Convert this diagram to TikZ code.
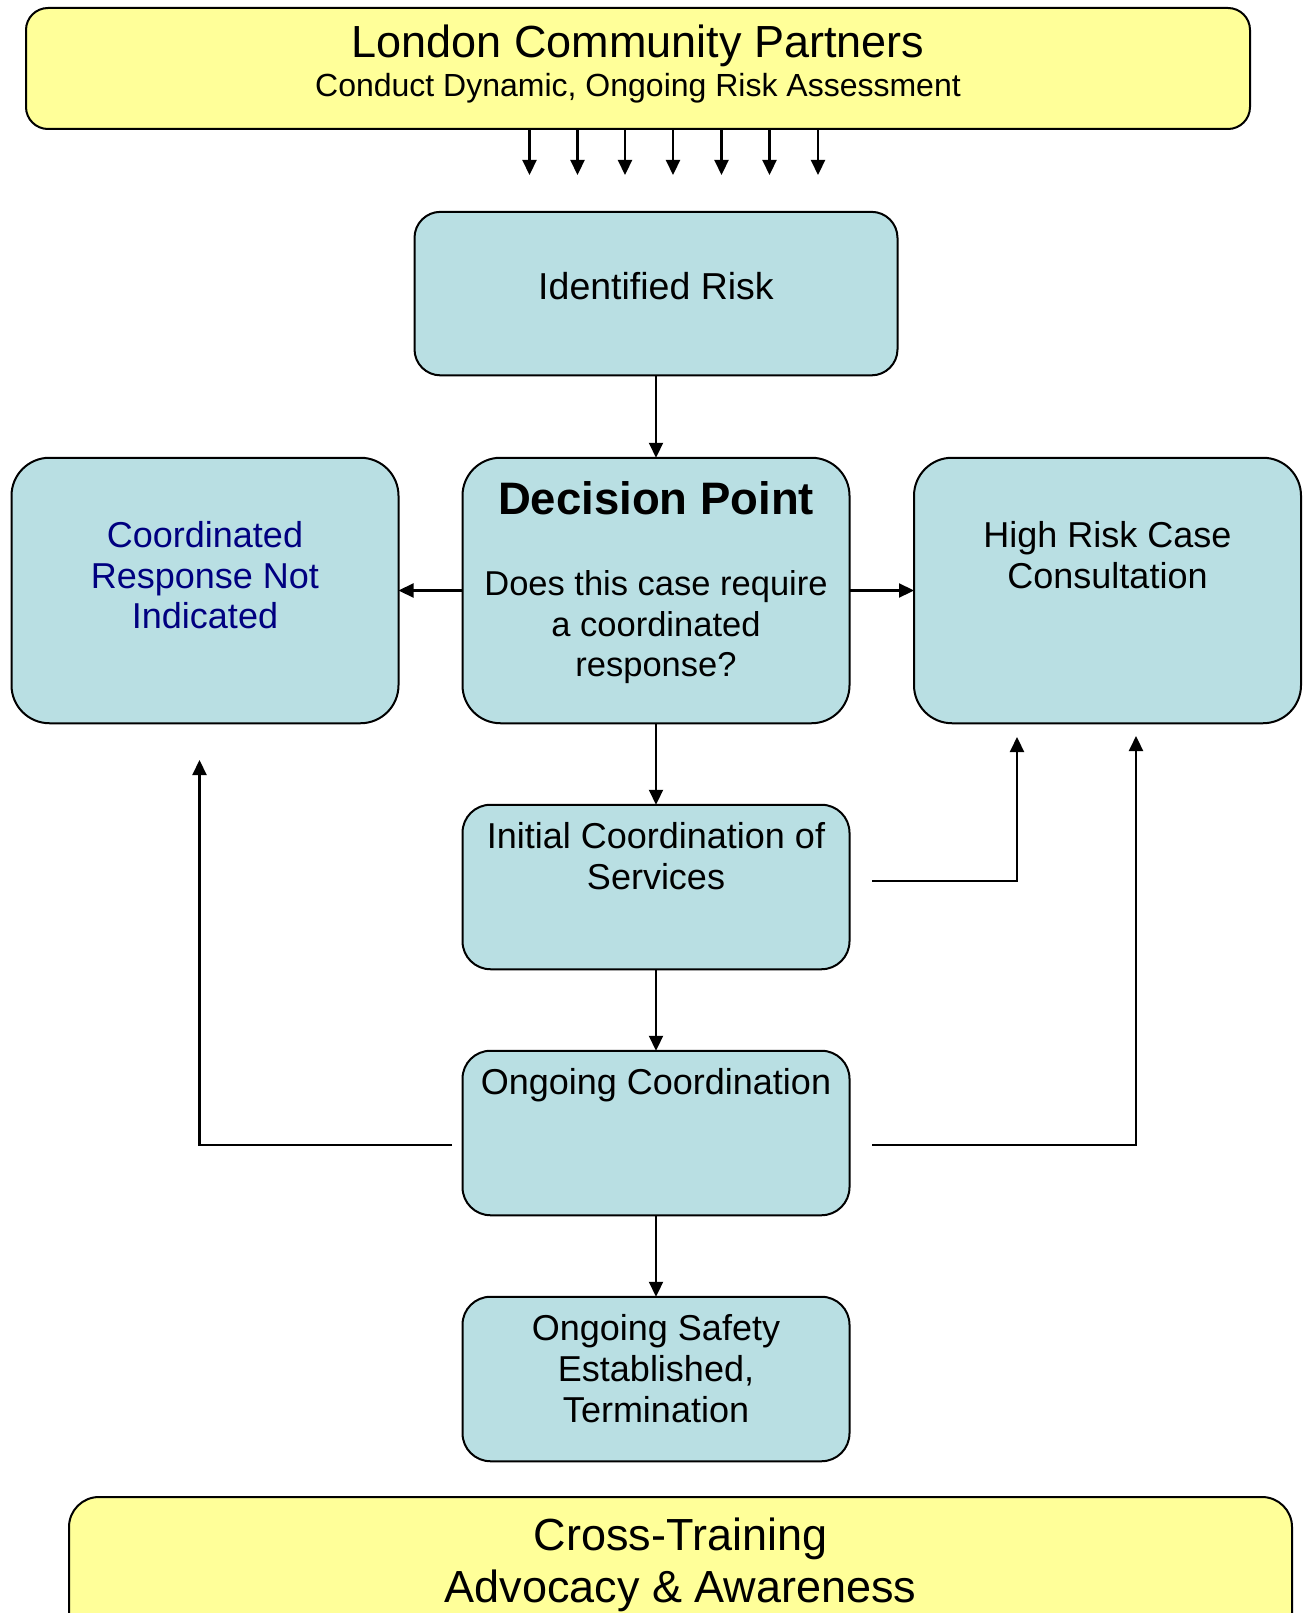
\documentclass[tikz,border=0pt]{standalone}
\usepackage{fontspec}
\setmainfont{Liberation Sans}
\usetikzlibrary{arrows.meta}
\definecolor{boxyellow}{HTML}{FFFF99}
\definecolor{boxblue}{HTML}{B9DFE3}
\definecolor{navytext}{HTML}{000080}
\tikzset{
  box/.style={draw=black, line width=2pt, fill=boxblue, inner sep=0pt, outer sep=0pt},
  banner/.style={draw=black, line width=2pt, fill=boxyellow, rounded corners=22pt, inner sep=0pt, outer sep=0pt},
  txt/.style={anchor=base, inner sep=0pt, font=\fontsize{36}{41}\selectfont},
  arr/.style={line width=2.2pt, -{Triangle[length=15pt,width=14pt]}},
}
\begin{document}
\begin{tikzpicture}[x=1pt,y=-1pt]
\useasboundingbox (0,0) rectangle (1303,1613);
\fill[white] (0,0) rectangle (1303,1613);
\clip (0,0) rectangle (1303,1613);

% boxes
\node[banner, minimum width=1224pt, minimum height=121pt] (top) at (638,68.5) {};
\node[box, rounded corners=26pt, minimum width=483pt, minimum height=163.5pt] (ident) at (656,293.6) {};
\node[box, rounded corners=38pt, minimum width=387pt, minimum height=265.5pt] (dec) at (656,590.5) {};
\node[box, rounded corners=38pt, minimum width=387pt, minimum height=265.5pt] (left) at (205,590.5) {};
\node[box, rounded corners=38pt, minimum width=387pt, minimum height=265.5pt] (right) at (1107.5,590.5) {};
\node[box, rounded corners=28pt, minimum width=387pt, minimum height=164.5pt] (init) at (656,887) {};
\node[box, rounded corners=28pt, minimum width=387pt, minimum height=164.5pt] (ong) at (656,1133) {};
\node[box, rounded corners=28pt, minimum width=387pt, minimum height=164.5pt] (safe) at (656,1379) {};
\node[banner, rounded corners=30pt, minimum width=1223pt, minimum height=150pt] (bottom) at (680.5,1572) {};

% texts
\node[txt, font=\fontsize{45}{50}\selectfont] (lcp1) at (638,58) {London Community Partners};
\node[txt, font=\fontsize{32}{36}\selectfont] (lcp2) at (638,97) {Conduct Dynamic, Ongoing Risk Assessment};
\node[txt, font=\fontsize{37.5}{42}\selectfont] (identt) at (656,299) {Identified Risk};
\node[txt, font=\fontsize{45.5}{50}\selectfont\bfseries] (dect) at (656,514) {Decision Point};
\node[txt, font=\fontsize{34.5}{40}\selectfont] (decq1) at (656,595) {Does this case require};
\node[txt, font=\fontsize{34.5}{40}\selectfont] (decq2) at (656,636) {a coordinated};
\node[txt, font=\fontsize{34.5}{40}\selectfont] (decq3) at (656,676) {response?};
\node[txt, text=navytext] (leftt1) at (205,547) {Coordinated};
\node[txt, text=navytext] (leftt2) at (205,588) {Response Not};
\node[txt, text=navytext] (leftt3) at (205,628.5) {Indicated};
\node[txt] (rightt1) at (1107.5,547) {High Risk Case};
\node[txt] (rightt2) at (1107.5,588) {Consultation};
\node[txt] (initt1) at (656,848) {Initial Coordination of};
\node[txt] (initt2) at (656,889) {Services};
\node[txt] (ongt) at (656,1094) {Ongoing Coordination};
\node[txt] (safet1) at (656,1340.5) {Ongoing Safety};
\node[txt] (safet2) at (656,1381.5) {Established,};
\node[txt] (safet3) at (656,1422.5) {Termination};
\node[txt, font=\fontsize{45}{50}\selectfont] (bott1) at (680.5,1550.5) {Cross-Training};
\node[txt, font=\fontsize{45}{50}\selectfont] (bott2) at (680.5,1602) {Advocacy \& Awareness};

% arrows from banner
\foreach \i/\x in {1/529.5,2/577.5,3/625,4/673,5/721.5,6/769.5,7/818} {
  \coordinate (t\i) at (\x,175);
  \draw[arr] (top.south -| t\i) -- (t\i);
}

% main flow
\draw[arr] (ident.south) -- (dec.north);
\draw[arr] (dec.west) -- (left.east);
\draw[arr] (dec.east) -- (right.west);
\draw[arr] (dec.south) -- (init.north);
\draw[arr] (init.south) -- (ong.north);
\draw[arr] (ong.south) -- (safe.north);

% feedback connectors
\coordinate (i1) at (872,881);
\coordinate (i2) at (1017,737);
\draw[arr] (i1) -| (i2);
\coordinate (o1) at (872,1145);
\coordinate (o2) at (1136,736);
\draw[arr] (o1) -| (o2);
\coordinate (o3) at (452,1145);
\coordinate (o4) at (199.5,760);
\draw[arr] (o3) -| (o4);
\end{tikzpicture}
\end{document}
